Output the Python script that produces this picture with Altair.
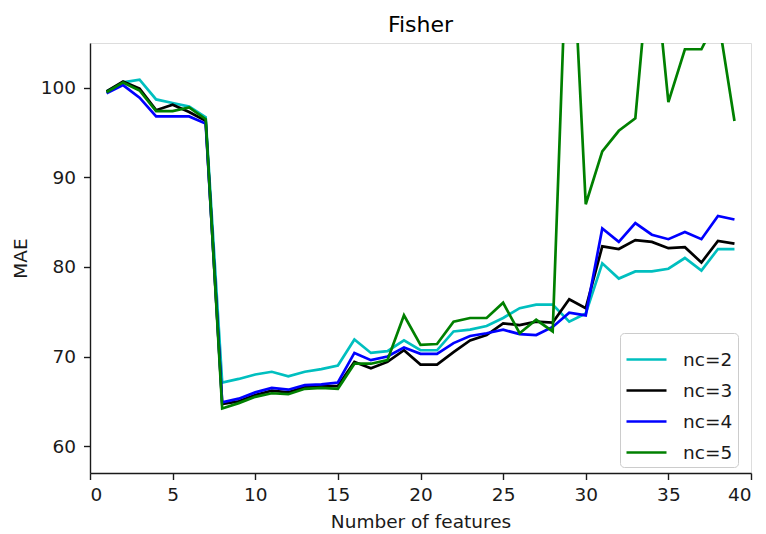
import altair as alt
import pandas as pd

features = list(range(1, 40))
nc2 = [99.6, 100.6, 100.9, 98.7, 98.3, 97.9, 96.7, 67.1, 67.5, 68.0, 68.3, 67.8, 68.3, 68.6, 69.0, 71.9, 70.4,
       70.6, 71.8, 70.7, 70.7, 72.8, 73.0, 73.4, 74.3, 75.4, 75.8, 75.8, 73.9, 74.8,
       80.4, 78.7, 79.5, 79.5, 79.8, 81.0, 79.6, 82.0, 82.0]
nc3 = [99.6, 100.7, 99.9, 97.5, 98.1, 97.3, 96.3, 64.7, 65.0, 65.7, 66.2, 66.0, 66.6, 66.7, 66.7, 69.4, 68.7,
       69.4, 70.7, 69.1, 69.1, 70.5, 71.8, 72.4, 73.7, 73.5, 73.9, 73.8, 76.4, 75.4,
       82.3, 82.0, 83.0, 82.8, 82.1, 82.2, 80.5, 82.9, 82.6]
nc4 = [99.4, 100.3, 98.9, 96.8, 96.8, 96.8, 96.0, 64.9, 65.3, 66.0, 66.5, 66.3, 66.8, 66.9, 67.1, 70.4, 69.6,
       70.0, 71.0, 70.3, 70.3, 71.5, 72.3, 72.6, 73.0, 72.5, 72.4, 73.3, 74.9, 74.6,
       84.3, 82.8, 84.9, 83.6, 83.1, 83.9, 83.1, 85.7, 85.3]
nc5 = [99.5, 100.6, 99.7, 97.4, 97.4, 97.8, 96.5, 64.2, 64.8, 65.5, 65.9, 65.8, 66.4, 66.5, 66.4, 69.2, 69.2,
       69.6, 74.6, 71.3, 71.4, 73.9, 74.3, 74.3, 76.0, 72.6, 74.1, 72.8, 124.0, 87.0,
       92.9, 95.2, 96.6, 117.0, 98.4, 104.3, 104.3, 108.0, 96.3]

series_names = ["nc=2", "nc=3", "nc=4", "nc=5"]
series_values = [nc2, nc3, nc4, nc5]
colors = ["#00BFBF", "#000000", "#0000FF", "#008000"]

rows = []
for name, vals in zip(series_names, series_values):
    for f, v in zip(features, vals):
        rows.append({"features": f, "MAE": v, "series": name})
df = pd.DataFrame(rows)

FONT = "DejaVu Sans"
FS = 18.5
INK = "#1a1a1a"

axis_common = dict(grid=False, format="d", labelFontSize=FS, titleFontSize=FS,
                   tickSize=6.5, tickWidth=1.4, domainWidth=1.4, domainColor=INK, tickColor=INK,
                   labelColor=INK, titleColor=INK, labelFont=FONT, titleFont=FONT,
                   titleFontWeight="normal")

chart = alt.Chart(df).mark_line(clip=True, strokeWidth=2.7).encode(
    x=alt.X("features:Q", title="Number of features",
            scale=alt.Scale(domain=[0, 40], nice=False, zero=False),
            axis=alt.Axis(values=[0, 5, 10, 15, 20, 25, 30, 35, 40], titlePadding=8, labelPadding=6,
                          **axis_common)),
    y=alt.Y("MAE:Q", title="MAE",
            scale=alt.Scale(domain=[57, 105], nice=False, zero=False),
            axis=alt.Axis(values=[60, 70, 80, 90, 100], titlePadding=10, labelPadding=8,
                          **axis_common)),
    color=alt.Color("series:N", sort=series_names,
                    scale=alt.Scale(domain=series_names, range=colors),
                    legend=alt.Legend(title=None, orient="none", legendX=530, legendY=290,
                                      symbolType="stroke", symbolSize=1600, symbolStrokeWidth=2.7,
                                      labelFontSize=FS, labelFont=FONT, labelColor=INK,
                                      labelOffset=15, rowPadding=-2, padding=5,
                                      strokeColor="#cccccc", cornerRadius=4, fillColor="white")),
).properties(
    width=661, height=430,
    title=alt.TitleParams("Fisher", fontSize=22, font=FONT, fontWeight="normal", color="#000",
                          offset=6),
    autosize=alt.AutoSizeParams(type="none"),
    padding={"left": 90, "top": 43, "right": 15, "bottom": 61},
).configure_view(stroke=INK, strokeWidth=1.4).configure(background="white")

chart.save("out.html", embed_options={"renderer": "svg", "actions": False})
